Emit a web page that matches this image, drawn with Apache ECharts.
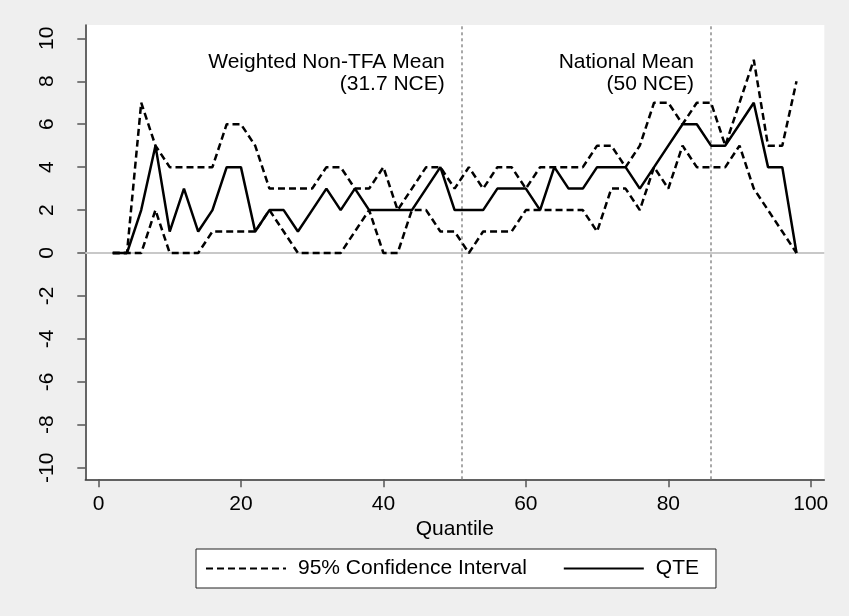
<!DOCTYPE html>
<html>
<head>
<meta charset="utf-8">
<script src="https://cdn.jsdelivr.net/npm/echarts@6/dist/echarts.min.js"></script>
<style>
html,body{margin:0;padding:0;background:#efefef;}
#c{width:849px;height:616px;}
</style>
</head>
<body>
<div id="c"></div>
<script>
var quantiles = [2,4,6,8,10,12,14,16,18,20,22,24,26,28,30,32,34,36,38,40,42,44,46,48,50,52,54,56,58,60,62,64,66,68,70,72,74,76,78,80,82,84,86,88,90,92,94,96,98];
var qte   = [0,0,2,5,1,3,1,2,4,4,1,2,2,1,2,3,2,3,2,2,2,2,3,4,2,2,2,3,3,3,2,4,3,3,4,4,4,3,4,5,6,6,5,5,6,7,4,4,0];
var upper = [0,0,7,5,4,4,4,4,6,6,5,3,3,3,3,4,4,3,3,4,2,3,4,4,3,4,3,4,4,3,4,4,4,4,5,5,4,5,7,7,6,7,7,5,7,9,5,5,8];
var lower = [0,0,0,2,0,0,0,1,1,1,1,2,1,0,0,0,0,1,2,0,0,2,2,1,1,0,1,1,1,2,2,2,2,2,1,3,3,2,4,3,5,4,4,4,5,3,2,1,0];
var xTicks = [0,20,40,60,80,100];
var yTicks = [-10,-8,-6,-4,-2,0,2,4,6,8,10];
var refLines = [51,86];
var refLabels = ['Weighted Non-TFA Mean\n(31.7 NCE)','National Mean\n(50 NCE)'];
var ciName = '95% Confidence Interval';
var qteName = 'QTE';

function pairs(xs, ys){ return xs.map(function(x,i){ return [x, ys[i]]; }); }

var FONT = 'Liberation Sans, Arial, Helvetica, sans-serif';
var chart = echarts.init(document.getElementById('c'), null, {renderer:'canvas'});
var option = {
  backgroundColor: '#efefef',
  animation: false,
  textStyle: {fontFamily: FONT},
  grid: {left: 85.3, right: 24.7, top: 25, bottom: 136.7, show: true, backgroundColor: '#ffffff', borderWidth: 0},
  xAxis: {
    type: 'value', min: -1.85, max: 101.9,
    name: 'Quantile', nameLocation: 'middle', nameGap: 35,
    nameTextStyle: {fontSize: 21, color: '#000', fontFamily: FONT},
    axisLine: {show: true, onZero: false, lineStyle: {color: '#333', width: 1.5}},
    axisTick: {show: true, length: 8, customValues: xTicks, lineStyle: {color: '#555', width: 1.5}},
    axisLabel: {customValues: xTicks, fontSize: 21, color: '#000', margin: 14, fontFamily: FONT},
    splitLine: {show: false}
  },
  yAxis: {
    type: 'value', min: -10.54, max: 10.62,
    axisLine: {show: true, onZero: false, lineStyle: {color: '#333', width: 1.5}},
    axisTick: {show: true, length: 8, customValues: yTicks, lineStyle: {color: '#555', width: 1.5}},
    axisLabel: {customValues: yTicks, rotate: 90, fontSize: 21, color: '#000', margin: 28, fontFamily: FONT},
    splitLine: {show: false}
  },
  legend: {
    data: [ciName, qteName],
    left: 196, top: 549,
    orient: 'horizontal',
    backgroundColor: '#ffffff', borderColor: '#222', borderWidth: 1,
    padding: [9, 17, 9, 9],
    itemWidth: 80, itemHeight: 14, itemGap: 36,
    itemStyle: {color: 'rgba(0,0,0,0)', borderColor: 'rgba(0,0,0,0)', borderWidth: 0},
    textStyle: {fontSize: 21, color: '#000', fontFamily: FONT, padding: [0,0,0,7]}
  },
  series: [
    {
      name: 'ref', type: 'line', data: [], z: 1, silent: true,
      markLine: {
        silent: true, z: 1, symbol: ['none','none'], label: {show: false}, animation: false,
        data: [
          {yAxis: 0, lineStyle: {color: '#c8c8c8', width: 2, type: 'solid'}},
          {xAxis: refLines[0], lineStyle: {color: '#8c8c8c', width: 1.5, type: [3,3]}},
          {xAxis: refLines[1], lineStyle: {color: '#8c8c8c', width: 1.5, type: [3,3]}}
        ]
      }
    },
    {name: ciName, type: 'line', data: pairs(quantiles, upper), symbol: 'none', z: 3,
     lineStyle: {color: '#000', width: 2.5, type: [7,4]}, itemStyle: {color: '#000'}},
    {name: ciName, type: 'line', data: pairs(quantiles, lower), symbol: 'none', z: 3,
     lineStyle: {color: '#000', width: 2.5, type: [7,4]}, itemStyle: {color: '#000'}},
    {name: qteName, type: 'line', data: pairs(quantiles, qte), symbol: 'none', z: 4,
     lineStyle: {color: '#000', width: 2.5, type: 'solid'}, itemStyle: {color: '#000'}}
  ]
};
chart.setOption(option);
var gr = refLines.map(function(v, i){
  var px = chart.convertToPixel({xAxisIndex: 0}, v);
  return {
    type: 'text', x: px - 17, y: 51,
    style: {text: refLabels[i], textAlign: 'right', textVerticalAlign: 'top', fontSize: 21, lineHeight: 22, fill: '#000', fontFamily: FONT}
  };
});
chart.setOption({graphic: gr});
</script>
</body>
</html>
